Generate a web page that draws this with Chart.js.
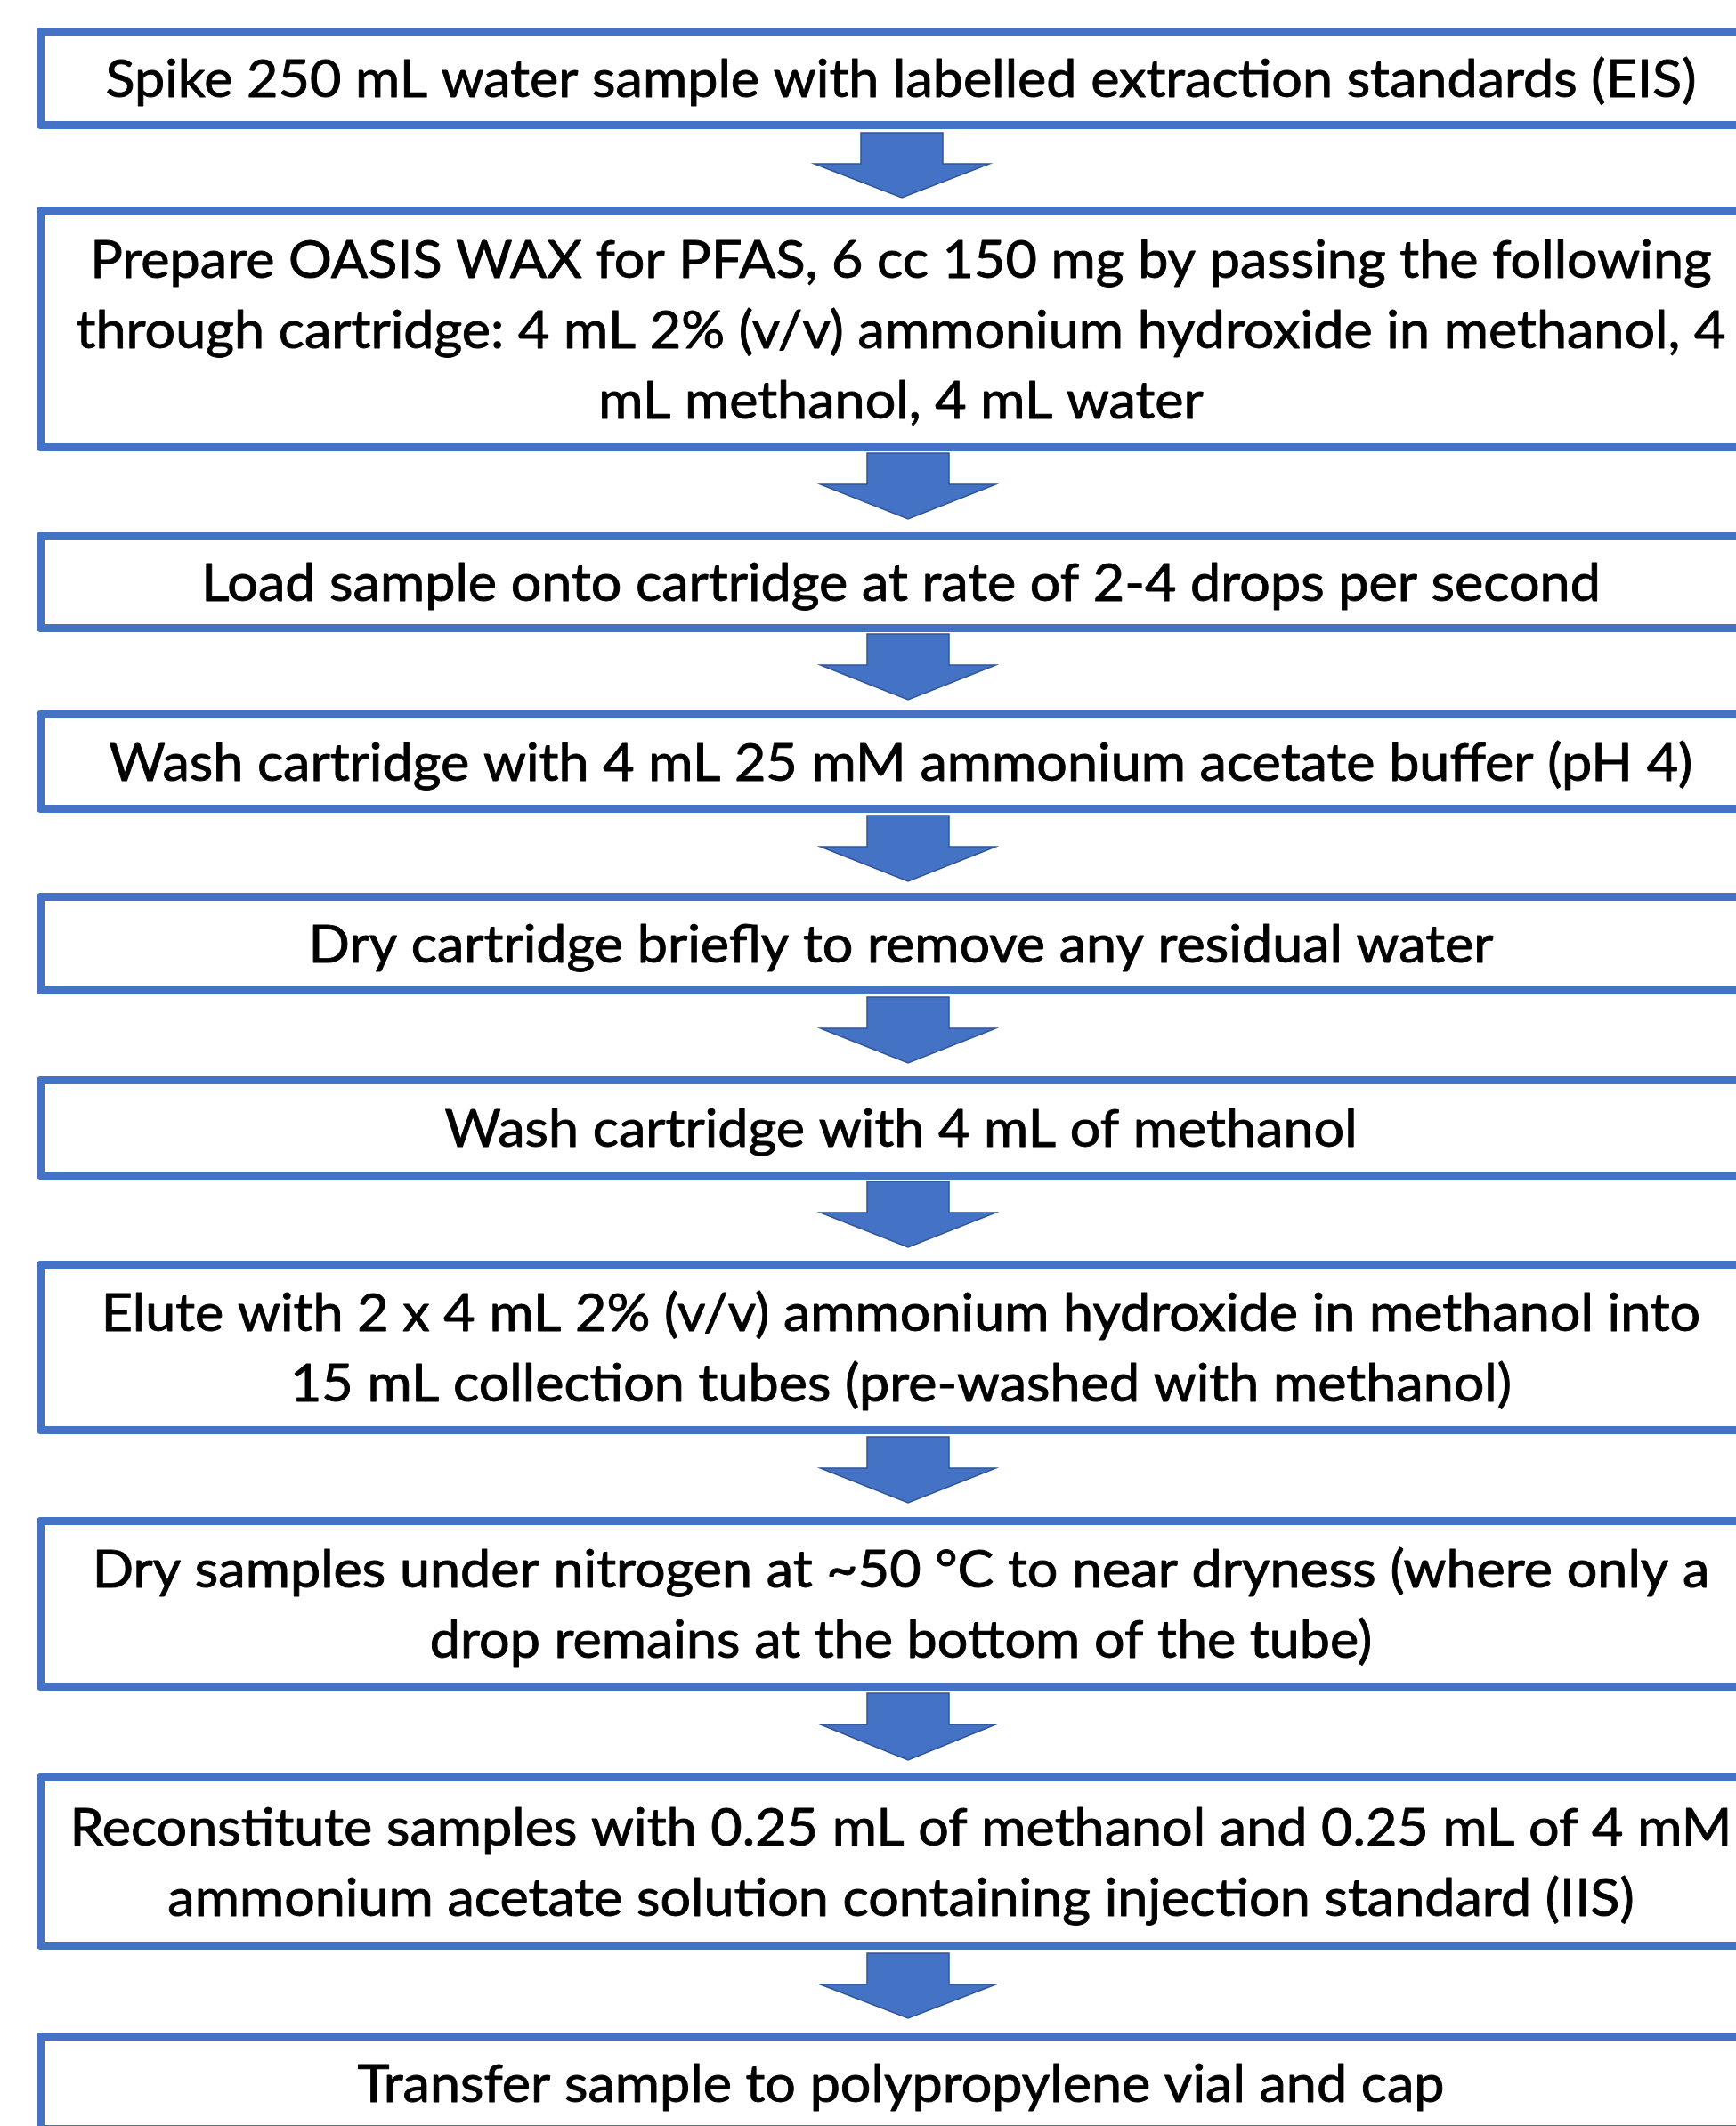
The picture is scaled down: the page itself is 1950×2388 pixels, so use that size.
<!DOCTYPE html>
<html>
<head>
<meta charset="utf-8">
<script src="https://cdn.jsdelivr.net/npm/chart.js@4.4.1/dist/chart.umd.min.js"></script>
<style>
  html, body { margin: 0; padding: 0; background: #ffffff; }
  #wrap { width: 1950px; height: 2388px; }
</style>
</head>
<body>
<div id="wrap"><canvas id="c" width="1950" height="2388"></canvas></div>
<script>
// ---- Flow steps (text lines per box) ----
const stepLines = [
  ["Spike 250 mL water sample with labelled extraction standards (EIS)"],
  ["Prepare OASIS WAX for PFAS, 6 cc 150 mg by passing the following",
   "through cartridge: 4 mL 2% (v/v) ammonium hydroxide in methanol, 4",
   "mL methanol, 4 mL water"],
  ["Load sample onto cartridge at rate of 2-4 drops per second"],
  ["Wash cartridge with 4 mL 25 mM ammonium acetate buffer (pH 4)"],
  ["Dry cartridge briefly to remove any residual water"],
  ["Wash cartridge with 4 mL of methanol"],
  ["Elute with 2 x 4 mL 2% (v/v) ammonium hydroxide in methanol into",
   "15 mL collection tubes (pre-washed with methanol)"],
  ["Dry samples under nitrogen at ~50 \u00B0C to near dryness (where only a",
   "drop remains at the bottom of the tube)"],
  ["Reconstitute samples with 0.25 mL of methanol and 0.25 mL of 4 mM",
   "ammonium acetate solution containing injection standard (IIS)"],
  ["Transfer sample to polypropylene vial and cap"]
];
// box extents on the vertical axis (top / bottom of each step)
const boxTop    = [31, 232, 597, 798, 1003, 1209, 1416, 1704, 1992, 2283];
const boxBottom = [145, 507, 710, 913, 1117, 1325, 1611, 1899, 2190, 2396];
const boxLeft = 41, boxRight = 1983;
// connector arrows between steps
const arrowTop = [149, 509, 712, 916, 1120, 1327, 1614, 1902, 2194];
const arrowTip = [222, 583, 786, 990, 1194, 1401, 1688, 1977, 2267];
const arrowX   = [1013, 1020, 1020, 1020, 1020, 1020, 1020, 1020, 1020];

// ---- styles ----
const BLUE = '#4472C4';
const ARROW_EDGE = '#2F5597';
const BW = 9;            // box border width
const SHAFT = 46, WING = 98.5, SHAFT_LEN = 35;
const FONT_SIZE = 59, LINE_GAP = 79, CAP_H = 42;
const FONT_FAMILY = 'Lato, "Open Sans", "DejaVu Sans", sans-serif';
const TARGET_FIRST_LINE_W = 1787;

const datasets = [];
// boxes as closed outlines
boxTop.forEach((t, i) => {
  const h = BW / 2;
  const x0 = boxLeft + h, x1 = boxRight - h, y0 = t + h, y1 = boxBottom[i] - h;
  datasets.push({
    type: 'line',
    data: [{x:x0,y:y0},{x:x1,y:y0},{x:x1,y:y1},{x:x0,y:y1},{x:x0,y:y0},{x:x1,y:y0}],
    borderColor: BLUE, borderWidth: BW, backgroundColor: 'rgba(0,0,0,0)',
    fill: false, pointRadius: 0, tension: 0, borderJoinStyle: 'round',
    borderCapStyle: 'butt'
  });
});
// arrows as filled shapes
arrowTop.forEach((t, i) => {
  const cx = arrowX[i], base = t + SHAFT_LEN, tip = arrowTip[i];
  datasets.push({
    type: 'line',
    data: [
      {x:cx - SHAFT, y:t}, {x:cx + SHAFT, y:t}, {x:cx + SHAFT, y:base},
      {x:cx + WING, y:base}, {x:cx, y:tip}, {x:cx - WING, y:base},
      {x:cx - SHAFT, y:base}, {x:cx - SHAFT, y:t}, {x:cx + SHAFT, y:t}
    ],
    borderColor: ARROW_EDGE, borderWidth: 1.5, backgroundColor: BLUE,
    fill: 'shape', pointRadius: 0, tension: 0, borderJoinStyle: 'miter'
  });
});

const textPlugin = {
  id: 'stepText',
  afterDatasetsDraw(chart) {
    const ctx = chart.ctx;
    const xs = chart.scales.x, ys = chart.scales.y;
    ctx.save();
    ctx.font = FONT_SIZE + 'px ' + FONT_FAMILY;
    ctx.fillStyle = '#000000';
    ctx.strokeStyle = '#000000';
    ctx.lineWidth = 0.9;
    ctx.lineJoin = 'round';
    ctx.textAlign = 'center';
    ctx.textBaseline = 'alphabetic';
    const sx = TARGET_FIRST_LINE_W / ctx.measureText(stepLines[0][0]).width;
    const cx = xs.getPixelForValue((boxLeft + boxRight) / 2);
    stepLines.forEach((lines, i) => {
      const cy = ys.getPixelForValue((boxTop[i] + boxBottom[i]) / 2);
      const n = lines.length;
      lines.forEach((ln, j) => {
        const by = cy + CAP_H / 2 + (j - (n - 1) / 2) * LINE_GAP;
        ctx.save();
        ctx.translate(cx, by);
        ctx.scale(sx, 1);
        ctx.fillText(ln, 0, 0);
        ctx.strokeText(ln, 0, 0);
        ctx.restore();
      });
    });
    ctx.restore();
  }
};

new Chart(document.getElementById('c'), {
  type: 'line',
  data: { datasets },
  options: {
    responsive: false,
    animation: false,
    devicePixelRatio: 1,
    layout: { padding: 0 },
    plugins: { legend: { display: false }, tooltip: { enabled: false }, title: { display: false } },
    events: [],
    scales: {
      x: { type: 'linear', min: 0, max: 1950, display: false },
      y: { type: 'linear', min: 0, max: 2388, reverse: true, display: false }
    }
  },
  plugins: [textPlugin]
});
</script>
</body>
</html>
